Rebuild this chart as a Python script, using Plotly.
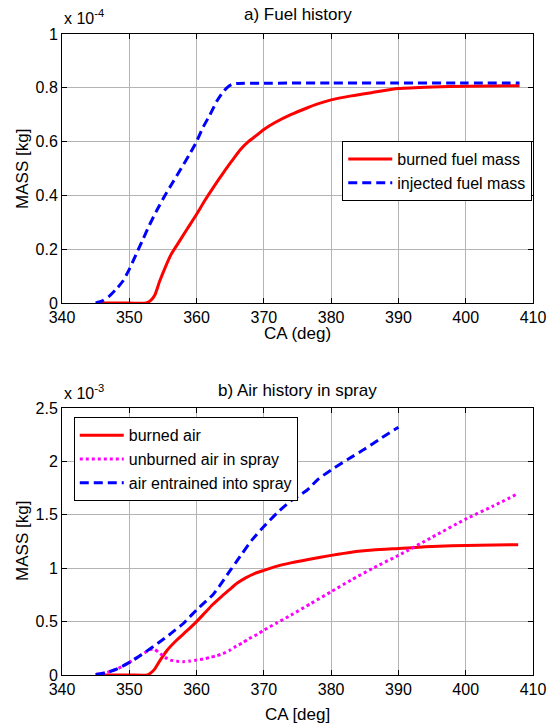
import plotly.graph_objects as go

# ---------------- data (top: x1e-4 kg, bottom: x1e-3 kg) ----------------
ca_inj = [345, 346, 347, 348, 349, 350, 351, 352, 353, 354, 355.3, 356.5, 357.7, 359, 360, 361, 362,
          363, 363.8, 364.5, 365.2, 366, 370, 380, 390, 400, 408]
inj_fuel = [0, 0.008, 0.025, 0.05, 0.08, 0.125, 0.18, 0.235, 0.29, 0.34, 0.40, 0.45, 0.50, 0.555, 0.60,
            0.655, 0.70, 0.75, 0.78, 0.80, 0.812, 0.816, 0.817, 0.818, 0.818, 0.818, 0.818]

ca_burn = [345.5, 350, 352.5, 353.2, 353.8, 354.5, 355.3, 356.2, 357.2, 358.6, 360, 361.2, 362.5, 364,
           365.3, 366.5, 367.7, 369, 370, 371.6, 374, 376.4, 378, 380, 383, 386, 390, 395, 400, 408]
burn_fuel = [0, 0, 0, 0.01, 0.03, 0.08, 0.13, 0.18, 0.22, 0.275, 0.33, 0.38, 0.43, 0.485, 0.53, 0.57,
             0.60, 0.625, 0.645, 0.67, 0.70, 0.725, 0.74, 0.755, 0.77, 0.782, 0.797, 0.803, 0.806, 0.808]

ca_bair = [345.5, 350, 352.7, 353.2, 353.7, 354.6, 355.6, 357.1, 358.5, 360, 361.2, 362.4, 363.7, 364.9,
           366, 367.3, 368.6, 370, 372, 374, 376.4, 380, 383, 386.2, 390, 394, 397.9, 402, 407.8]
burned_air = [0, 0, 0, 0.02, 0.05, 0.14, 0.23, 0.33, 0.41, 0.50, 0.58, 0.66, 0.735, 0.80, 0.86, 0.91,
              0.95, 0.98, 1.02, 1.05, 1.08, 1.12, 1.15, 1.17, 1.185, 1.20, 1.21, 1.215, 1.22]

ca_unb = [345, 346.5, 348.3, 350.2, 351.7, 353.2, 353.7, 354.6, 355.3, 356.1, 357, 358, 359, 360, 361,
          362, 363, 363.9, 364.9, 365.9, 366.8, 367.8, 369, 370, 372, 374, 377, 380, 383, 386.2, 390,
          395, 400, 404, 407.5]
unburned_air = [0.005, 0.02, 0.06, 0.125, 0.185, 0.24, 0.24, 0.2, 0.165, 0.14, 0.13, 0.125, 0.13, 0.14,
                0.15, 0.165, 0.18, 0.2, 0.23, 0.27, 0.30, 0.34, 0.38, 0.42, 0.49, 0.56, 0.67, 0.78, 0.89,
                1.0, 1.12, 1.29, 1.46, 1.58, 1.69]

ca_ent = [345, 346.5, 348.3, 350.2, 351.7, 353.2, 354.4, 355.6, 356.8, 358, 359, 360, 361.2, 362.4,
          363.6, 364.9, 365.8, 366.8, 368.3, 370, 372, 374, 376.4, 378, 380, 382.5, 385.1, 387.5, 390]
entrained_air = [0.005, 0.02, 0.06, 0.125, 0.185, 0.25, 0.305, 0.36, 0.42, 0.48, 0.545, 0.61, 0.68,
                 0.75, 0.85, 0.97, 1.05, 1.14, 1.27, 1.39, 1.52, 1.63, 1.73, 1.83, 1.92, 2.02, 2.12,
                 2.22, 2.32]

x_ticks = [340, 350, 360, 370, 380, 390, 400, 410]
y1_ticks = [0, 0.2, 0.4, 0.6, 0.8, 1]
y1_labels = ["0", "0.2", "0.4", "0.6", "0.8", "1"]
y2_ticks = [0, 0.5, 1, 1.5, 2, 2.5]
y2_labels = ["0", "0.5", "1", "1.5", "2", "2.5"]

FONT = "Liberation Sans, Arial, sans-serif"
W = 3
SM = 0.6

fig = go.Figure()
fig.add_trace(go.Scatter(x=ca_burn, y=burn_fuel, mode="lines", name="burned fuel mass",
                         line=dict(color="#ff0000", width=W, shape="spline", smoothing=SM),
                         xaxis="x", yaxis="y", legend="legend"))
fig.add_trace(go.Scatter(x=ca_inj, y=inj_fuel, mode="lines", name="injected fuel mass",
                         line=dict(color="#0000ff", width=W, dash="9px,5px", shape="spline", smoothing=SM),
                         xaxis="x", yaxis="y", legend="legend"))

fig.add_trace(go.Scatter(x=ca_bair, y=burned_air, mode="lines", name="burned air",
                         line=dict(color="#ff0000", width=W, shape="spline", smoothing=SM),
                         xaxis="x2", yaxis="y2", legend="legend2"))
fig.add_trace(go.Scatter(x=ca_unb, y=unburned_air, mode="lines", name="unburned air in spray",
                         line=dict(color="#ff00ff", width=W, dash="3px,3px", shape="spline", smoothing=SM),
                         xaxis="x2", yaxis="y2", legend="legend2"))
fig.add_trace(go.Scatter(x=ca_ent, y=entrained_air, mode="lines", name="air entrained into spray",
                         line=dict(color="#0000ff", width=W, dash="9px,5px", shape="spline", smoothing=SM),
                         xaxis="x2", yaxis="y2", legend="legend2"))

axis_common = dict(showline=True, linecolor="black", linewidth=1, mirror="ticks",
                   ticks="inside", ticklen=5, tickcolor="black",
                   showgrid=True, gridcolor="#b4b4b4", gridwidth=1, zeroline=False,
                   tickfont=dict(family=FONT, size=16, color="black"))

top_dom = [0.5803, 1.0]
bot_dom = [0.0, 0.4165]

fig.update_layout(
    width=558, height=726,
    margin=dict(l=62, r=14, t=34, b=51),
    paper_bgcolor="white", plot_bgcolor="white",
    font=dict(family=FONT, size=16, color="black"),
    xaxis=dict(domain=[0, 1], anchor="y", range=[340, 410], tickvals=x_ticks, **axis_common),
    yaxis=dict(domain=top_dom, anchor="x", range=[0, 1], tickvals=y1_ticks, ticktext=y1_labels, **axis_common),
    xaxis2=dict(domain=[0, 1], anchor="y2", range=[340, 410], tickvals=x_ticks, **axis_common),
    yaxis2=dict(domain=bot_dom, anchor="x2", range=[0, 2.5], tickvals=y2_ticks, ticktext=y2_labels, **axis_common),
    legend=dict(x=0.595, y=0.833, xanchor="left", yanchor="top", bgcolor="white",
                bordercolor="black", borderwidth=1, font=dict(family=FONT, size=16),
                itemwidth=44, tracegroupgap=0),
    legend2=dict(x=0.025, y=0.402, xanchor="left", yanchor="top", bgcolor="white",
                 bordercolor="black", borderwidth=1, font=dict(family=FONT, size=16),
                 itemwidth=44, tracegroupgap=0),
    showlegend=True,
)

ann = [
    dict(text="a) Fuel history", x=0.5, y=1.031, xref="paper", yref="paper", showarrow=False,
         xanchor="center", yanchor="middle", font=dict(size=17)),
    dict(text="b) Air history in spray", x=0.5, y=0.4446, xref="paper", yref="paper", showarrow=False,
         xanchor="center", yanchor="middle", font=dict(size=17)),
    dict(text="x 10<sup>-4</sup>", x=0, y=1.008, xref="paper", yref="paper", showarrow=False,
         xanchor="left", yanchor="bottom", font=dict(size=16)),
    dict(text="x 10<sup>-3</sup>", x=0, y=0.4225, xref="paper", yref="paper", showarrow=False,
         xanchor="left", yanchor="bottom", font=dict(size=16)),
    dict(text="CA (deg)", x=0.5, y=(675 - 333) / 641, xref="paper", yref="paper", showarrow=False,
         xanchor="center", yanchor="middle", font=dict(size=17)),
    dict(text="CA [deg]", x=0.5, y=(675 - 714) / 641, xref="paper", yref="paper", showarrow=False,
         xanchor="center", yanchor="middle", font=dict(size=17)),
    dict(text="MASS [kg]", x=(21 - 62) / 482, y=(675 - 169) / 641, xref="paper", yref="paper",
         showarrow=False, textangle=-90, xanchor="center", yanchor="middle", font=dict(size=17)),
    dict(text="MASS [kg]", x=(21 - 62) / 482, y=(675 - 541) / 641, xref="paper", yref="paper",
         showarrow=False, textangle=-90, xanchor="center", yanchor="middle", font=dict(size=17)),
]
fig.update_layout(annotations=ann)

fig.write_html("out.html", config={"displayModeBar": False},
               post_script="document.body.style.margin='0';")
